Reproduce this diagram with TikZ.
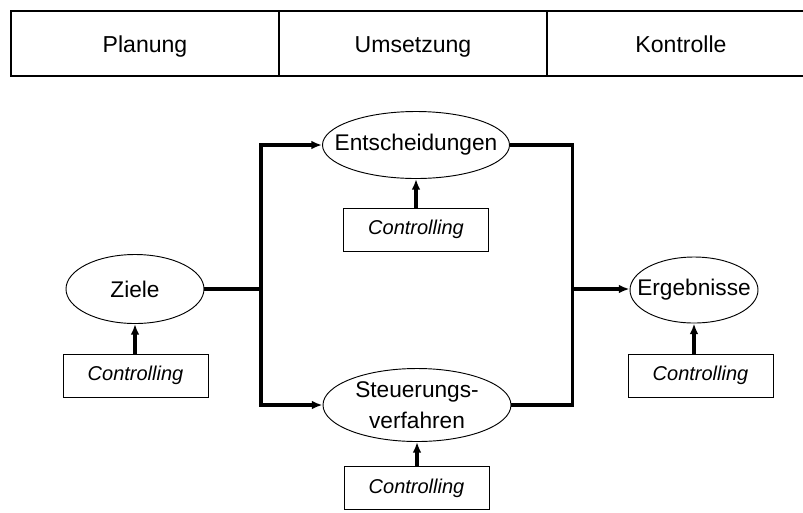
\documentclass[tikz,border=0pt]{standalone}
\usepackage{fontspec}
\setmainfont{Liberation Sans}
\usetikzlibrary{shapes.geometric,arrows.meta}
\newcommand{\flatbox}[1]{\makebox[0pt]{#1}}

\begin{document}
\begin{tikzpicture}[x=7.5pt,y=-7.5pt,
		stage/.style={ellipse,draw,line width=0.7pt,inner sep=0pt,align=center,font=\fontsize{17}{23}\selectfont},
		ctrlbox/.style={rectangle,draw,line width=0.7pt,minimum width=14.5*7.5pt,minimum height=4.3*7.5pt,font=\fontsize{15}{18}\selectfont\itshape},
		phase/.style={anchor=base,font=\fontsize{17.3}{20}\selectfont},
		link/.style={line width=2.3pt},
		flow/.style={line width=2.3pt,-{Latex[length=8pt,width=6.5pt]}}]
	\useasboundingbox (0,0) rectangle (80.3,51.2);
	% phases
	\draw [line width=1pt] (80.3,1.1) -- (1.1,1.1) -- (1.1,7.6) -- (80.3,7.6);
	\draw [line width=1pt] (27.9,1.1) -- (27.9,7.6);
	\draw [line width=1pt] (54.7,1.1) -- (54.7,7.6);
	\node [phase] (plan) at (14.5,5.27) {Planung};
	\node [phase] (umset) at (41.3,5.27) {Umsetzung};
	\node [phase] (kontr) at (68.1,5.27) {Kontrolle};
	% stages
	\node [stage,minimum width=13.8*7.5pt,minimum height=6.9*7.5pt] (ziele) at (13.5,28.9) {\flatbox{Ziele}};
	\node [stage,minimum width=18.7*7.5pt,minimum height=6.7*7.5pt] (ent) at (41.6,14.5) {\flatbox{Entscheidungen}};
	\node [stage,minimum width=18.8*7.5pt,minimum height=7.3*7.5pt] (steu) at (41.7,40.5) {Steuerungs-\\verfahren};
	\node [stage,minimum width=12.8*7.5pt,minimum height=6.6*7.5pt] (erg) at (69.4,29.0) {\flatbox{Ergebnisse}};
	% controlling
	\node [ctrlbox] (c1) at (13.55,37.55) {Controlling};
	\node [ctrlbox] (c2) at (41.6,22.95) {Controlling};
	\node [ctrlbox] (c3) at (41.65,48.8) {Controlling};
	\node [ctrlbox] (c4) at (70.05,37.55) {Controlling};
	% connectors
	\coordinate (jl) at (26.1,28.9);
	\coordinate (jr) at (57.25,28.9);
	\draw [link] (ziele) -- (jl);
	\draw [flow] (jl) |- (ent);
	\draw [flow] (jl) |- (steu);
	\draw [link] (ent) -| (jr);
	\draw [link] (steu) -| (jr);
	\draw [flow] (jr) -- (jr -| erg.west);
	\draw [flow] (ziele.south |- c1.north) -- (ziele.south);
	\draw [flow] (ent.south |- c2.north) -- (ent.south);
	\draw [flow] (steu.south |- c3.north) -- (steu.south);
	\draw [flow] (erg.south |- c4.north) -- (erg.south);
\end{tikzpicture}
\end{document}
